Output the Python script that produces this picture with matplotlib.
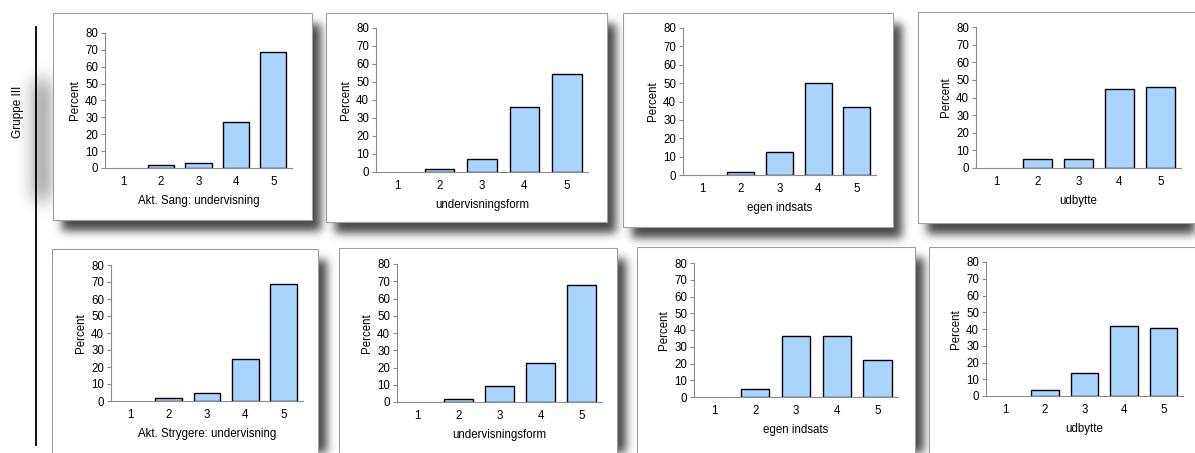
import numpy as np
import matplotlib
matplotlib.use("Agg")
import matplotlib.pyplot as plt
from matplotlib.patches import Rectangle

plt.rcParams['font.family'] = ['Liberation Sans', 'DejaVu Sans']

W, H = 1195, 453

categories = [1, 2, 3, 4, 5]
xlabels = [
    "Akt. Sang: undervisning", "undervisningsform", "egen indsats", "udbytte",
    "Akt. Strygere: undervisning", "undervisningsform", "egen indsats", "udbytte",
]
sang_undervisning = [0, 1.5, 3, 27, 69]
sang_form = [0, 1.5, 7.5, 36, 54.5]
sang_indsats = [0, 1.5, 12.5, 50, 37]
sang_udbytte = [0, 5, 5, 45, 46]
stryg_undervisning = [0, 1.5, 5, 25, 69]
stryg_form = [0, 1.5, 9, 22.5, 68]
stryg_indsats = [0, 5, 36.5, 36.5, 22]
stryg_udbytte = [0, 3.5, 14, 42, 40.5]
series = [sang_undervisning, sang_form, sang_indsats, sang_udbytte,
          stryg_undervisning, stryg_form, stryg_indsats, stryg_udbytte]
yticks = [0, 10, 20, 30, 40, 50, 60, 70, 80]

# layout in pixels: white card (l, t, r, b) and plot area (l, t, r, b)
cards = [(53, 13, 312, 220), (326, 13, 607, 222), (623, 13, 893, 227), (918, 12, 1200, 223),
         (52, 249, 318, 470), (339, 248, 617, 470), (637, 247, 915, 470), (929, 247, 1200, 470)]
plots = [(105, 33, 292, 168), (376, 28, 588, 172), (683, 28, 876, 175), (976, 27, 1181, 168),
         (111, 265, 303, 401), (397, 264, 602, 402), (694, 263, 898, 397), (986, 262, 1183, 396)]


def blur(a, sigma):
    r = int(3 * sigma)
    x = np.arange(-r, r + 1)
    k = np.exp(-x ** 2 / (2 * sigma ** 2))
    k /= k.sum()
    a = np.apply_along_axis(lambda m: np.convolve(m, k, mode="same"), 0, a)
    a = np.apply_along_axis(lambda m: np.convolve(m, k, mode="same"), 1, a)
    return a


fig = plt.figure(figsize=(W / 100, H / 100), dpi=100)
bg = fig.add_axes([0, 0, 1, 1])
bg.set_xlim(0, W)
bg.set_ylim(H, 0)
bg.axis("off")

# drop shadows behind the cards
mask = np.zeros((H, W))
dx, dy = 9, 11
for l, t, r, b in cards:
    mask[max(t + dy, 0):min(b + dy, H), max(l + dx, 0):min(r + dx, W)] = 1.0
mask = blur(mask, 4.5)
glow = np.zeros((H, W))
glow[80:200, 36:48] = 0.8
glow = blur(glow, 9)
mask = np.maximum(mask, glow)
img = np.zeros((H, W, 4))
img[..., :3] = 0.22
img[..., 3] = np.clip(mask * 0.92, 0, 1)
bg.imshow(img, extent=(0, W, H, 0), interpolation="bilinear", aspect="auto", zorder=0)

for l, t, r, b in cards:
    bg.add_patch(Rectangle((l, t), r - l, b - t, facecolor="white",
                           edgecolor="#a0a0a0", linewidth=0.8, zorder=1))

bg.plot([36, 36], [27, 445], color="black", linewidth=1.3, zorder=2)
bg.text(18, 112, "Gruppe III", rotation=90, ha="center", va="center", fontsize=8.5, zorder=2)

for vals, lab, (l, t, r, b) in zip(series, xlabels, plots):
    ax = fig.add_axes([l / W, 1 - b / H, (r - l) / W, (b - t) / H])
    ax.patch.set_alpha(0)
    widths = [1.0 if v > 0 else 0.0 for v in vals]
    ax.bar(categories, vals, width=0.7, color="#a8d4ff", edgecolor="black", linewidth=widths)
    ax.set_xlim(0.5, 5.5)
    ax.set_ylim(0, 80)
    ax.set_yticks(yticks)
    ax.set_xticks(categories)
    for side in ["top", "right"]:
        ax.spines[side].set_visible(False)
    for side in ["left", "bottom"]:
        ax.spines[side].set_color("#8c8c8c")
        ax.spines[side].set_linewidth(0.8)
    ax.tick_params(axis="y", length=3, width=0.8, color="#8c8c8c", labelsize=8.3, pad=2)
    ax.tick_params(axis="x", length=0, labelsize=8.3, pad=6)
    ax.set_ylabel("Percent", fontsize=8.3, labelpad=3)
    ax.set_xlabel(lab, fontsize=8.3, labelpad=5)

fig.savefig("out.png", dpi=100)
